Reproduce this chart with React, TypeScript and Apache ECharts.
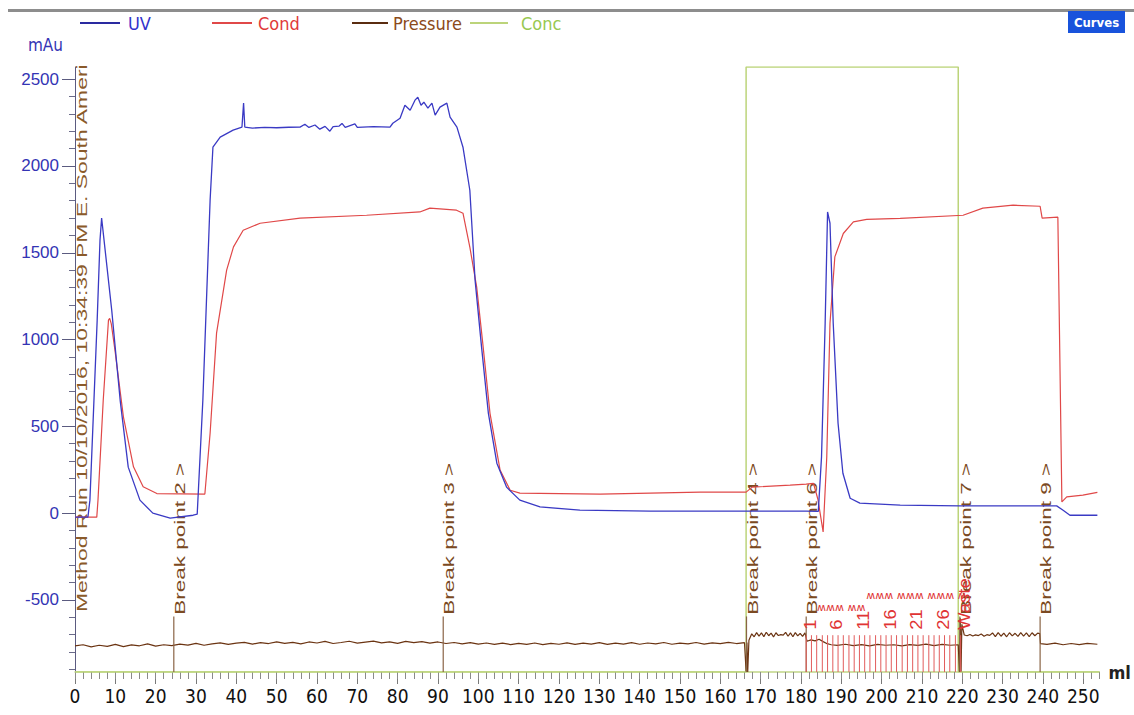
import React, { useEffect, useRef } from "react";
import * as echarts from "echarts";

const NARROW = '"Liberation Sans Narrow", "Arial Narrow", "DejaVu Sans Condensed", sans-serif';
const SANS = '"Liberation Sans", Arial, sans-serif';

const X_MIN = 0;
const X_MAX = 254;
const Y_MIN = -915;
const Y_MAX = 2570;

const xMajorTicks = [0, 10, 20, 30, 40, 50, 60, 70, 80, 90, 100, 110, 120, 130, 140, 150, 160, 170, 180, 190, 200, 210, 220, 230, 240, 250];
const yMajorTicks = [-500, 0, 500, 1000, 1500, 2000, 2500];
const yMinorTicks = [-900, -800, -700, -600, -400, -300, -200, -100, 100, 200, 300, 400, 600, 700, 800, 900, 1100, 1200, 1300, 1400, 1600, 1700, 1800, 1900, 2100, 2200, 2300, 2400];

const uvData: [number, number][] = [
  [0, -23], [3.2, -23], [3.7, 75], [5.5, 1112], [6.2, 1573], [6.6, 1700], [7.2, 1573], [9.1, 1170], [11.2, 650],
  [13.2, 265], [16.1, 75], [19.3, 0], [23.6, -29], [29.3, -12], [30.3, -6], [31.7, 650], [33.5, 1803], [34.2, 2108],
  [36.0, 2166], [39.2, 2206], [41.4, 2224], [41.8, 2362], [42.1, 2224], [44, 2218], [47, 2222], [50, 2220], [53, 2223],
  [55.8, 2224], [57, 2240], [58, 2222], [59.5, 2236], [60.7, 2212], [62, 2228], [63.2, 2200], [64, 2226], [65.5, 2230],
  [66.2, 2245], [67, 2222], [69.4, 2242], [70, 2222], [74, 2226], [78.1, 2224], [78.8, 2246], [80.6, 2275], [81.8, 2350],
  [83.1, 2321], [84.3, 2379], [85.0, 2396], [85.8, 2350], [86.5, 2367], [87.5, 2333], [88.5, 2362], [89.3, 2293],
  [90.5, 2339], [92.2, 2362], [93.0, 2281], [94.7, 2224], [96.2, 2108], [97.9, 1860], [99.2, 1342], [100.8, 958],
  [102.5, 575], [104.6, 288], [107.0, 150], [110.3, 75], [115.3, 36], [125.2, 17], [142.6, 12], [166.4, 12], [181.3, 12],
  [184.3, 10], [185.1, 324], [186.0, 1094], [186.6, 1735], [187.2, 1670], [188.0, 1094], [189.2, 518], [190.4, 230],
  [192.2, 86], [194.6, 58], [204.6, 46], [219.4, 42], [243.4, 42], [245.0, 17], [246.7, -12], [253.5, -12],
];

const condData: [number, number][] = [
  [0, -23], [5.4, -23], [5.7, 75], [7.0, 650], [8.3, 1112], [8.6, 1122], [9.0, 1090], [9.9, 940], [12.0, 555],
  [14.5, 267], [16.9, 152], [20.3, 113], [32.2, 110], [33.5, 460], [35.1, 1037], [37.6, 1400], [39.3, 1534],
  [41.7, 1630], [45.9, 1670], [55.8, 1700], [72.3, 1716], [85.5, 1735], [88.0, 1757], [94.6, 1745], [96.2, 1728],
  [97.9, 1533], [99.6, 1302], [101.2, 958], [102.9, 575], [105.4, 248], [107.9, 132], [110.3, 115], [130.2, 110],
  [155.0, 121], [166.4, 121], [167.9, 150], [177.3, 161], [181.3, 167], [183.1, 172], [184.2, 80], [185.5, -108],
  [186.4, 324], [187.2, 1094], [188.4, 1476], [190.5, 1611], [193.0, 1678], [196.3, 1692], [204.6, 1698], [220.2, 1716],
  [225.1, 1757], [232.6, 1774], [239.3, 1768], [239.8, 1700], [243.7, 1705], [244.7, 65], [245.9, 94], [249.9, 104],
  [253.5, 120],
];

const pressureData: [number, number][] = [
  [0, -765], [2, -758], [4, -770], [6, -761], [8, -767], [10, -756], [12, -769], [14, -759], [16, -764], [18, -753],
  [20, -766], [22, -758], [24, -763], [26, -754], [28, -760], [30, -750], [32, -761], [34, -753], [36, -747], [38, -756],
  [40, -749], [42, -744], [44, -754], [46, -746], [48, -751], [50, -741], [52, -750], [54, -744], [56, -753], [58, -742],
  [60, -748], [62, -739], [64, -751], [66, -745], [68, -738], [70, -749], [72, -743], [74, -737], [76, -747], [78, -741],
  [80, -750], [82, -739], [84, -746], [86, -740], [88, -749], [90, -742], [92, -751], [94, -745], [96, -753], [98, -746],
  [100, -754], [102, -748], [104, -756], [106, -749], [108, -757], [110, -750], [112, -756], [114, -748], [116, -757],
  [118, -750], [120, -755], [122, -747], [124, -756], [126, -749], [128, -754], [130, -746], [132, -756], [134, -749],
  [136, -754], [138, -746], [140, -755], [142, -748], [144, -753], [146, -745], [148, -755], [150, -749], [152, -753],
  [154, -745], [156, -754], [158, -747], [160, -752], [162, -744], [164, -751], [166, -746],
  [166.4, -912], [166.6, -745], [166.8, -915], [167.1, -732], [167.8, -695], [168.4, -712], [169.0, -688], [169.6, -708],
  [170.2, -690], [170.8, -711], [171.4, -686], [172.0, -706], [172.6, -691], [173.2, -713], [173.8, -689], [174.4, -705],
  [175.0, -700], [175.6, -703], [176.2, -687], [176.8, -709], [177.4, -690], [178.0, -712], [178.6, -688], [179.2, -707],
  [179.8, -692], [180.4, -710], [181.0, -690], [181.5, -738], [182.5, -730], [183.5, -736], [184.5, -726], [185.5, -740],
  [186.5, -752], [187.5, -758], [189, -762], [191, -755], [193, -763], [195, -757], [197, -764], [199, -756], [201, -761],
  [203, -758], [205, -765], [207, -757], [209, -762], [211, -754], [213, -763], [215, -756], [217, -761], [219, -758],
  [219.3, -915], [219.5, -605], [219.7, -912], [219.9, -640], [220.5, -702], [221.2, -706], [221.9, -699], [222.6, -708],
  [223.3, -701], [224.0, -705], [224.7, -696], [225.4, -709], [226.1, -700], [226.8, -704], [227.5, -690], [228.2, -711],
  [228.9, -688], [229.6, -709], [230.3, -691], [231.0, -712], [231.7, -689], [232.4, -707], [233.1, -692], [233.8, -710],
  [234.5, -688], [235.2, -708], [235.9, -690], [236.6, -711], [237.3, -689], [238.0, -706], [238.7, -691], [239.2, -694],
  [239.4, -752], [241, -756], [243, -749], [245, -758], [247, -751], [249, -757], [251, -750], [253.5, -755],
];

const concData: [number, number][] = [
  [0, 0], [166.4, 0], [166.4, 100], [219, 100], [219, 0], [254, 0],
];

const breakX = [24.5, 91.3, 166.5, 181.3, 219.4, 239.3];
const breakLabels = ["Break point 2 >", "Break point 3 >", "Break point 4 >", "Break point 6 >", "Break point 7 >", "Break point 9 >"];
const BREAK_LINE_TOP = -595;
const BREAK_LABEL_START = -585;

const fracX = [181.3, 182.6, 183.9, 185.3, 186.6, 187.9, 189.2, 190.5, 191.9, 193.2, 194.5, 195.8, 197.1, 198.5, 199.8,
  201.1, 202.4, 203.7, 205.1, 206.4, 207.7, 209.0, 210.3, 211.7, 213.0, 214.3, 215.6, 216.9, 218.3, 219.6];
const fracLabels = ["1", "", "", "", "", "6", "", "", "", "", "11", "", "", "", "", "16", "", "", "", "", "21", "", "", "", "", "26", "", "", "", "Waste"];
const FRAC_LINE_TOP = -703;
const FRAC_LABEL_START = -672;

const zigX = [184.0, 196.2];
const zigY = [-541, -472];
const zigText = ["ʍʍʍ ʍʍ", "ʍʍʍ ʍʍʍ ʍʍʍ ʍ"];

const methodText = "Method Run 10/10/2016, 10:34:39 PM E. South Ameri";

function measure(text: string, font: string): number {
  const ctx = document.createElement("canvas").getContext("2d");
  if (!ctx) return text.length * 8;
  ctx.font = font;
  return ctx.measureText(text).width;
}

export default function App() {
  const ref = useRef<HTMLDivElement>(null);

  useEffect(() => {
    if (!ref.current) return;
    const chart = echarts.init(ref.current, undefined, { renderer: "svg" });

    const breakScale = 152 / measure("Break point 2 >", "15px " + SANS);
    const methodScale = 549 / measure(methodText, "15px " + SANS);

    const breakRender = (params: any, api: any) => {
      const x = api.value(0);
      const pb = api.coord([x, Y_MIN]);
      const pt = api.coord([x, BREAK_LINE_TOP]);
      const pl = api.coord([x, BREAK_LABEL_START]);
      return {
        type: "group",
        children: [
          { type: "line", shape: { x1: pb[0], y1: pb[1], x2: pt[0], y2: pt[1] }, style: { stroke: "#8a6446", lineWidth: 1.2 } },
          {
            type: "text", x: pl[0] + 6, y: pl[1], rotation: Math.PI / 2, scaleX: breakScale,
            style: {
              text: breakLabels[params.dataIndex], fill: "#7b4a22", fontSize: 15, fontFamily: SANS,
              textAlign: "left", textVerticalAlign: "middle", align: "left", verticalAlign: "middle",
            },
          },
        ],
      };
    };

    const fracRender = (params: any, api: any) => {
      const x = api.value(0);
      const pb = api.coord([x, Y_MIN]);
      const pt = api.coord([x, FRAC_LINE_TOP]);
      const pl = api.coord([x, FRAC_LABEL_START]);
      const label = fracLabels[params.dataIndex];
      const children: any[] = [
        { type: "line", shape: { x1: pb[0], y1: pb[1], x2: pt[0], y2: pt[1] }, style: { stroke: "#e25c5c", lineWidth: 1 } },
      ];
      if (label) {
        children.push({
          type: "text", x: pl[0] + 4, y: pl[1], rotation: Math.PI / 2, scaleX: 1.15,
          style: {
            text: label, fill: "#e03434", fontSize: 16, fontFamily: SANS,
            textAlign: "left", textVerticalAlign: "middle", align: "left", verticalAlign: "middle",
          },
        });
      }
      return { type: "group", children };
    };

    const zigRender = (params: any, api: any) => {
      const p = api.coord([api.value(0), api.value(1)]);
      return {
        type: "text", x: p[0], y: p[1],
        style: {
          text: zigText[params.dataIndex], fill: "#e03434", fontSize: 11, fontFamily: '"DejaVu Sans", sans-serif',
          textAlign: "left", textVerticalAlign: "middle", align: "left", verticalAlign: "middle",
        },
      };
    };

    const legendBase = {
      top: 14, padding: 0, itemHeight: 2, icon: "rect", selectedMode: false, itemGap: 0,
    };

    const option: any = {
      animation: false,
      backgroundColor: "#ffffff",
      grid: { left: 75, right: 34.6, top: 67, bottom: 43 },
      legend: [
        { ...legendBase, left: 80, itemWidth: 40, data: ["UV"], textStyle: { color: "#3333cc", fontSize: 18, fontFamily: NARROW, padding: [0, 0, 0, 3] } },
        { ...legendBase, left: 212, itemWidth: 40, data: ["Cond"], textStyle: { color: "#e03a3a", fontSize: 18, fontFamily: NARROW, padding: [0, 0, 0, 1] } },
        { ...legendBase, left: 352, itemWidth: 36, data: ["Pressure"], textStyle: { color: "#8b4a1a", fontSize: 18, fontFamily: NARROW } },
        { ...legendBase, left: 470, itemWidth: 38, data: ["Conc"], textStyle: { color: "#98c850", fontSize: 18, fontFamily: NARROW, padding: [0, 0, 0, 8] } },
      ],
      xAxis: [
        {
          type: "value", min: X_MIN, max: X_MAX, name: "ml", nameLocation: "end", nameGap: 9,
          nameTextStyle: { color: "#222", fontSize: 18, fontWeight: "bold", fontFamily: NARROW, verticalAlign: "middle", padding: [6, 0, 0, 0] },
          axisLine: { show: true, onZero: false, lineStyle: { color: "#c0d686", width: 1.5 } },
          axisTick: { show: true, inside: false, length: 12, customValues: xMajorTicks, lineStyle: { color: "#7a7a7a" } },
          axisLabel: { customValues: xMajorTicks, margin: 14, color: "#111", fontSize: 19, fontFamily: NARROW },
          splitLine: { show: false },
        },
        {
          type: "value", min: X_MIN, max: X_MAX, interval: 2, position: "bottom",
          axisLine: { show: false, onZero: false },
          axisTick: { show: true, inside: false, length: 7, lineStyle: { color: "#8a8a8a" } },
          axisLabel: { show: false },
          splitLine: { show: false },
        },
      ],
      yAxis: [
        {
          type: "value", min: Y_MIN, max: Y_MAX, name: "mAu", nameLocation: "end", nameGap: 22,
          nameTextStyle: { color: "#3434b4", fontSize: 17, fontFamily: NARROW, align: "right", verticalAlign: "middle", padding: [0, 12, 0, 0] },
          axisLine: { show: true, onZero: false, lineStyle: { color: "#5b5b80" } },
          axisTick: { show: true, inside: false, length: 13, customValues: yMajorTicks, lineStyle: { color: "#5b5b80" } },
          axisLabel: {
            customValues: yMajorTicks, margin: 16, color: "#3434b4", fontSize: 17, fontFamily: SANS,
            formatter: (v: number) => String(v),
          },
          splitLine: { show: false },
        },
        { type: "value", min: 0, max: 100, show: false },
        {
          type: "value", min: Y_MIN, max: Y_MAX, position: "left",
          axisLine: { show: false, onZero: false },
          axisTick: { show: true, inside: false, length: 6, customValues: yMinorTicks, lineStyle: { color: "#6b6b8a" } },
          axisLabel: { show: false },
          splitLine: { show: false },
        },
      ],
      series: [
        {
          name: "Conc", type: "line", yAxisIndex: 1, data: concData, showSymbol: false, symbol: "none", z: 1,
          lineStyle: { color: "#bcd47a", width: 1.5 }, itemStyle: { color: "#bcd47a" },
        },
        {
          name: "Pressure", type: "line", data: pressureData, showSymbol: false, symbol: "none", z: 2,
          lineStyle: { color: "#6b3412", width: 1.2 }, itemStyle: { color: "#5a2c10" },
        },
        { name: "breaks", type: "custom", data: breakX.map((x) => [x, Y_MIN]), renderItem: breakRender, z: 3 },
        { name: "fractions", type: "custom", data: fracX.map((x) => [x, Y_MIN]), renderItem: fracRender, z: 3 },
        { name: "fractionMarks", type: "custom", data: zigX.map((x, i) => [x, zigY[i]]), renderItem: zigRender, z: 3 },
        {
          name: "Cond", type: "line", data: condData, showSymbol: false, symbol: "none", z: 4,
          lineStyle: { color: "#e04848", width: 1.2 }, itemStyle: { color: "#e04848" },
        },
        {
          name: "UV", type: "line", data: uvData, showSymbol: false, symbol: "none", z: 5,
          lineStyle: { color: "#3a3ac4", width: 1.3 }, itemStyle: { color: "#2a2aa0" },
        },
      ],
      graphic: [
        { type: "rect", x: 8, y: 9, shape: { x: 0, y: 0, width: 1126, height: 3 }, style: { fill: "#8d8d8d" } },
        { type: "rect", x: 1068, y: 11, shape: { x: 0, y: 0, width: 57, height: 22 }, style: { fill: "#1853dc" } },
        {
          type: "text", x: 1096.5, y: 22,
          style: { text: "Curves", fill: "#ffffff", fontSize: 13, fontWeight: "bold", fontFamily: NARROW, textAlign: "center", textVerticalAlign: "middle", align: "center", verticalAlign: "middle" },
        },
        {
          type: "text", x: 82, y: 612, rotation: Math.PI / 2, scaleX: methodScale,
          style: { text: methodText, fill: "#8a5a2a", fontSize: 15, fontFamily: SANS, textAlign: "left", textVerticalAlign: "middle", align: "left", verticalAlign: "middle" },
        },
      ],
    };

    chart.setOption(option);
    return () => chart.dispose();
  }, []);

  return <div ref={ref} style={{ position: "fixed", left: 0, top: 0, width: 1134, height: 715, background: "#fff" }} />;
}
